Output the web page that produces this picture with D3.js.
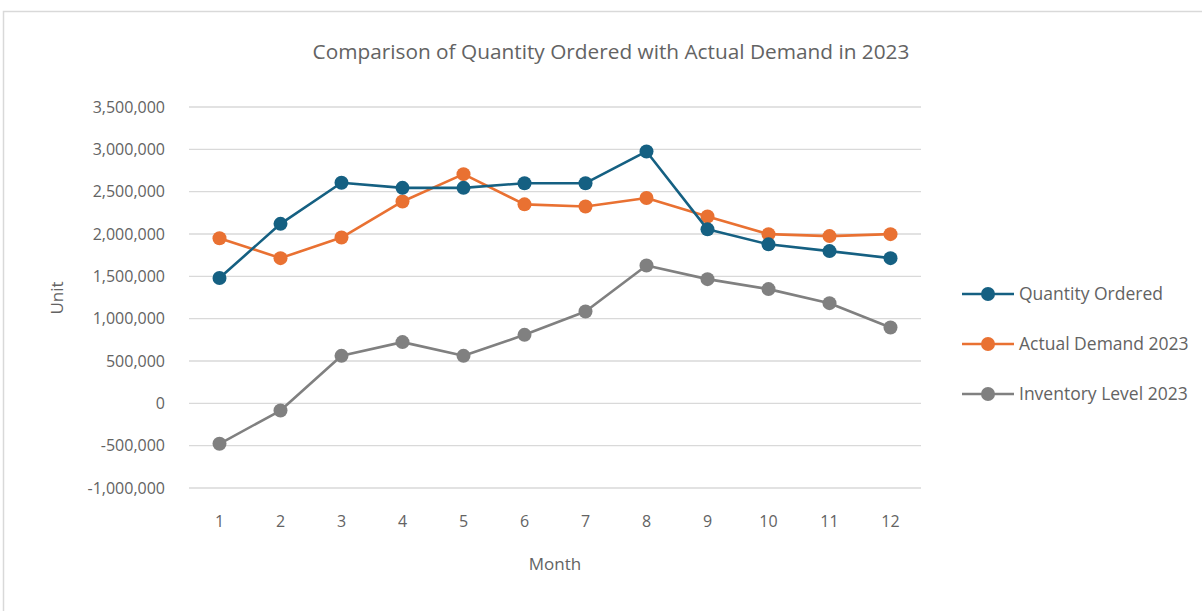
<!DOCTYPE html>
<html>
<head>
<meta charset="utf-8">
<script src="https://cdn.jsdelivr.net/npm/d3@7"></script>
<style>
  body { margin: 0; background: #fff; }
  text { font-family: "Open Sans", "Noto Sans", sans-serif; fill: #636363; }
</style>
</head>
<body>
<script>
var w = 1202;
var h = 611;

var months = [1, 2, 3, 4, 5, 6, 7, 8, 9, 10, 11, 12];
var seriesNames = ["Quantity Ordered", "Actual Demand 2023", "Inventory Level 2023"];
var quantityOrdered = [1480000, 2120000, 2605000, 2545000, 2545000, 2600000, 2600000, 2975000, 2055000, 1878000, 1798000, 1715000];
var actualDemand = [1950000, 1715000, 1958000, 2384000, 2707000, 2350000, 2325000, 2425000, 2207000, 1998000, 1975000, 1998000];
var inventoryLevel = [-478000, -85000, 561000, 723000, 561000, 809000, 1084000, 1628000, 1467000, 1349000, 1183000, 895000];
var yTicks = [-1000000, -500000, 0, 500000, 1000000, 1500000, 2000000, 2500000, 3000000, 3500000];
var colors = ["#156082", "#e97132", "#808080"];

var series = [quantityOrdered, actualDemand, inventoryLevel];

var svg = d3.select("body")
    .append("svg")
    .attr("width", w)
    .attr("height", h);

// outer frame
svg.append("path")
    .attr("d", "M3.5," + h + " L3.5,11.5 L" + w + ",11.5")
    .attr("fill", "none")
    .attr("stroke", "#d9d9d9")
    .attr("stroke-width", 1.5);

var xScale = d3.scalePoint()
    .domain(months)
    .range([189, 921])
    .padding(0.5);

var yScale = d3.scaleLinear()
    .domain([-1000000, 3500000])
    .range([488, 107]);

var fmt = d3.format(",");

// gridlines
svg.selectAll(".grid")
    .data(yTicks)
    .enter()
    .append("line")
    .attr("class", "grid")
    .attr("x1", 189)
    .attr("x2", 921)
    .attr("y1", function(d) { return yScale(d); })
    .attr("y2", function(d) { return yScale(d); })
    .attr("stroke", "#d9d9d9")
    .attr("stroke-width", 1.3);

// y tick labels
svg.selectAll(".ytick")
    .data(yTicks)
    .enter()
    .append("text")
    .attr("class", "ytick")
    .attr("x", 165)
    .attr("y", function(d) { return yScale(d); })
    .attr("dy", "0.35em")
    .attr("text-anchor", "end")
    .style("font-size", "16px")
    .text(function(d) { return fmt(d).replace("\u2212", "-"); });

// x tick labels
svg.selectAll(".xtick")
    .data(months)
    .enter()
    .append("text")
    .attr("class", "xtick")
    .attr("x", function(d) { return xScale(d); })
    .attr("y", 521)
    .attr("dy", "0.35em")
    .attr("text-anchor", "middle")
    .style("font-size", "16px")
    .text(function(d) { return d; });

var line = d3.line()
    .x(function(d, i) { return xScale(months[i]); })
    .y(function(d) { return yScale(d); });

// draw grey first, then orange, then blue on top
[2, 1, 0].forEach(function(s) {
  svg.append("path")
      .datum(series[s])
      .attr("fill", "none")
      .attr("stroke", colors[s])
      .attr("stroke-width", 2.6)
      .attr("stroke-linejoin", "round")
      .attr("d", line);

  svg.selectAll(".dot" + s)
      .data(series[s])
      .enter()
      .append("circle")
      .attr("class", "dot" + s)
      .attr("cx", function(d, i) { return xScale(months[i]); })
      .attr("cy", function(d) { return yScale(d); })
      .attr("r", 7)
      .attr("fill", colors[s]);
});

// title
svg.append("text")
    .attr("x", 611)
    .attr("y", 59)
    .attr("text-anchor", "middle")
    .style("font-size", "20.8px")
    .text("Comparison of Quantity Ordered with Actual Demand in 2023");

// axis titles
svg.append("text")
    .attr("x", 555)
    .attr("y", 564)
    .attr("dy", "0.35em")
    .attr("text-anchor", "middle")
    .style("font-size", "17px")
    .text("Month");

svg.append("text")
    .attr("transform", "translate(57,298) rotate(-90)")
    .attr("dy", "0.35em")
    .attr("text-anchor", "middle")
    .style("font-size", "17px")
    .text("Unit");

// legend
var legend = svg.selectAll(".legend")
    .data(seriesNames)
    .enter()
    .append("g")
    .attr("class", "legend")
    .attr("transform", function(d, i) { return "translate(962," + (294 + i * 50) + ")"; });

legend.append("line")
    .attr("x1", 0)
    .attr("x2", 52)
    .attr("stroke", function(d, i) { return colors[i]; })
    .attr("stroke-width", 2.6);

legend.append("circle")
    .attr("cx", 26)
    .attr("r", 7)
    .attr("fill", function(d, i) { return colors[i]; });

legend.append("text")
    .attr("x", 57)
    .attr("dy", "0.35em")
    .style("font-size", "17.5px")
    .text(function(d) { return d; });
</script>
</body>
</html>
